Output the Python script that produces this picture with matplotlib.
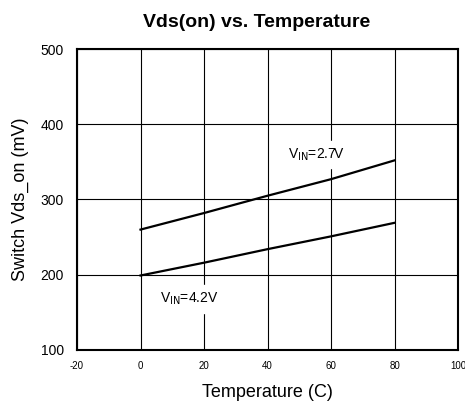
import matplotlib.pyplot as plt

plt.rcParams['font.family'] = ['Liberation Sans', 'DejaVu Sans']
plt.rcParams['axes.unicode_minus'] = False

temp = [0, 20, 40, 60, 80]
vds_27 = [260, 282, 305, 327, 352]
vds_42 = [199, 216, 234, 251, 269]

fig = plt.figure(figsize=(4.65, 4.04), dpi=100)
ax = fig.add_axes([0.1656, 0.1337, 0.8194, 0.745])

ax.plot(temp, vds_27, color='black', lw=1.6)
ax.plot(temp, vds_42, color='black', lw=1.6)

ax.set_xlim(-20, 100)
ax.set_ylim(100, 500)
ax.set_xticks(range(-20, 101, 20))
ax.set_yticks(range(100, 501, 100))
ax.grid(True, color='black', lw=0.8)
ax.tick_params(axis='x', labelsize=7, length=0, pad=8)
ax.tick_params(axis='y', labelsize=10, length=0, pad=9.5)
for s in ax.spines.values():
    s.set_linewidth(1.5)

ax.text(46.5, 360, r'V$_{\mathrm{IN}}$=2.7V', fontsize=10, va='center',
        backgroundcolor='white')
ax.text(6, 168, r'V$_{\mathrm{IN}}$=4.2V', fontsize=10, va='center',
        backgroundcolor='white')

ax.set_xlabel('Temperature (C)', fontsize=13, labelpad=9)
ax.set_ylabel('Switch Vds_on (mV)', fontsize=13, labelpad=8)
ax.set_title('Vds(on) vs. Temperature', fontsize=14, fontweight='bold',
             pad=16, x=0.472)

fig.savefig('out.png', dpi=100)
